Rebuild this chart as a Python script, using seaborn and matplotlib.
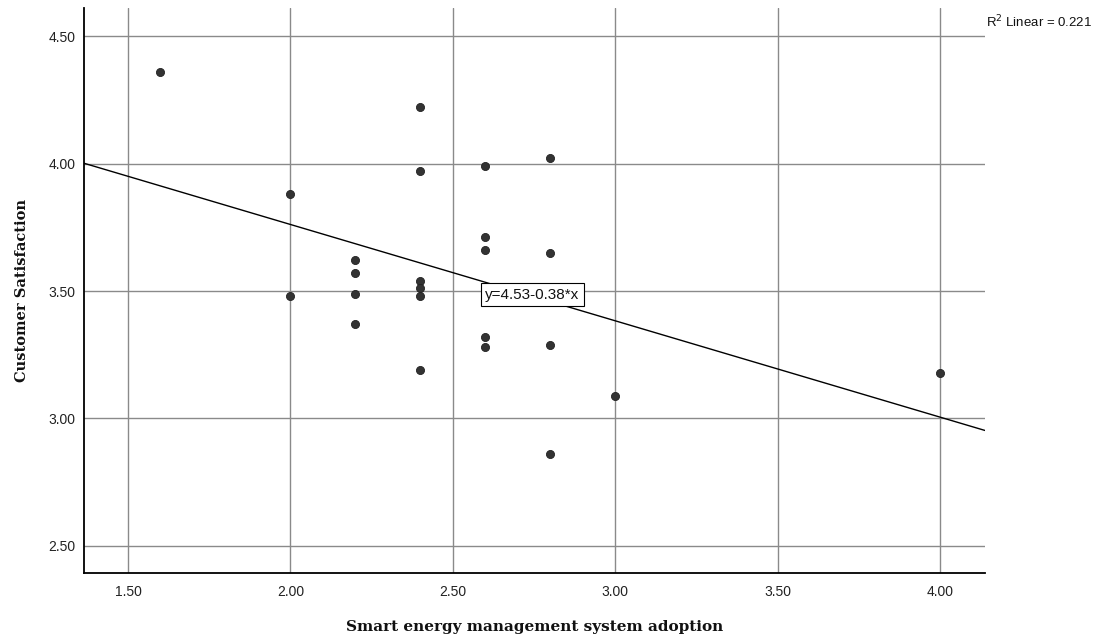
import numpy as np
import pandas as pd
import seaborn as sns
import matplotlib
matplotlib.use("Agg")
import matplotlib.pyplot as plt

# Data
adoption = [1.6, 2.0, 2.0, 2.2, 2.2, 2.2, 2.2,
            2.4, 2.4, 2.4, 2.4, 2.4, 2.4,
            2.6, 2.6, 2.6, 2.6, 2.6,
            2.8, 2.8, 2.8, 2.8,
            3.0, 4.0]
satisfaction = [4.36, 3.88, 3.48, 3.62, 3.57, 3.49, 3.37,
                4.22, 3.97, 3.54, 3.51, 3.48, 3.19,
                3.99, 3.71, 3.66, 3.32, 3.28,
                4.02, 3.65, 3.29, 2.86,
                3.09, 3.18]
x_ticks = [1.5, 2.0, 2.5, 3.0, 3.5, 4.0]
y_ticks = [2.5, 3.0, 3.5, 4.0, 4.5]
x_label = "Smart energy management system adoption"
y_label = "Customer Satisfaction"
eq_text = "y=4.53-0.38*x"

df = pd.DataFrame({"x": adoption, "y": satisfaction})

sns.set_theme(style="white")
plt.rcParams['font.family'] = ['Liberation Sans', 'DejaVu Sans']

fig = plt.figure(figsize=(11.04, 6.39), dpi=100)
ax = fig.add_axes([84/1104, 1 - 573/639, (985-84)/1104, (573-8)/639])
ax.set_xlim(1.3645, 4.1385)
ax.set_ylim(2.394, 4.61)
ax.set_xticks(x_ticks)
ax.set_yticks(y_ticks)
ax.set_xticklabels([f"{v:.2f}" for v in x_ticks])
ax.set_yticklabels([f"{v:.2f}" for v in y_ticks])

ax.grid(True, color="#8a8a8a", linewidth=1.0)
ax.set_axisbelow(True)

sns.regplot(data=df, x="x", y="y", ax=ax, ci=None, truncate=False,
            scatter_kws=dict(s=34, color="#333333", edgecolor="#222222",
                             linewidths=0.6, alpha=1, zorder=3),
            line_kws=dict(color="black", linewidth=1.0, zorder=2))

for side in ["top", "right"]:
    ax.spines[side].set_visible(False)
for side in ["left", "bottom"]:
    ax.spines[side].set_color("black")
    ax.spines[side].set_linewidth(1.3)

ax.tick_params(axis="both", length=0, labelsize=10, colors="#222222")
ax.tick_params(axis="x", pad=9)
ax.tick_params(axis="y", pad=6)

ax.set_xlabel(x_label, family=["DejaVu Serif"], fontweight="bold",
              fontsize=11, labelpad=15, color="#111111")
ax.set_ylabel(y_label, family=["DejaVu Serif"], fontweight="bold",
              fontsize=10.5, labelpad=14, color="#111111")

ax.text(2.745, 3.486, eq_text, ha="center", va="center", fontsize=11,
        color="#111111", zorder=5,
        bbox=dict(boxstyle="square,pad=0.28", facecolor="white",
                  edgecolor="black", linewidth=0.8))

fig.text(986/1104, 1 - 22/639, r"R$^2$ Linear = 0.221", ha="left",
         va="center", fontsize=9.5, color="#111111")

fig.savefig("out.png", dpi=100)
